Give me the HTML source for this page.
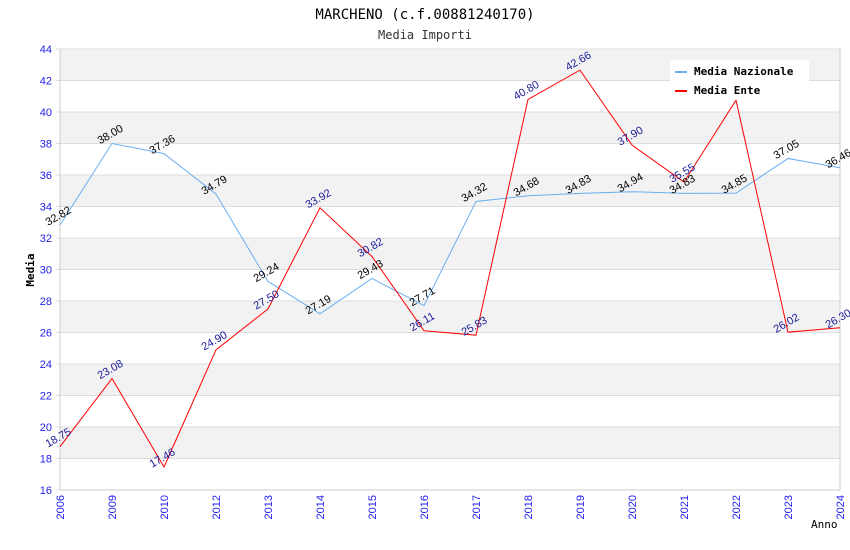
<!DOCTYPE html>
<html><head><meta charset="utf-8"><style>
body{margin:0;background:#fff}
svg{display:block}
</style></head><body>
<svg id="chart" width="850" height="550" xmlns="http://www.w3.org/2000/svg">
<text x="425" y="19" text-anchor="middle" font-family="DejaVu Sans Mono, monospace" font-size="14" fill="#000">MARCHENO (c.f.00881240170)</text>
<text x="425" y="39" text-anchor="middle" font-family="DejaVu Sans Mono, monospace" font-size="12" fill="#333">Media Importi</text>
<g id="bands"></g><g id="grid"></g><g id="axes"></g><g id="lines"></g><g id="labels"></g>
<text transform="translate(34,270) rotate(-90)" text-anchor="middle" font-family="DejaVu Sans Mono, monospace" font-size="11" font-weight="bold">Media</text>
<text x="811" y="528" font-family="DejaVu Sans Mono, monospace" font-size="11">Anno</text>
<g>
<rect x="670" y="60" width="139" height="40" fill="#fff"/>
<line x1="675" y1="72" x2="687" y2="72" stroke="#6aaef0" stroke-width="2"/>
<text x="694" y="75" font-family="DejaVu Sans Mono, monospace" font-size="11" font-weight="bold">Media Nazionale</text>
<line x1="675" y1="91" x2="687" y2="91" stroke="#ff0000" stroke-width="2"/>
<text x="694" y="94" font-family="DejaVu Sans Mono, monospace" font-size="11" font-weight="bold">Media Ente</text>
</g>
</svg>
<script>
const years=["2006","2009","2010","2012","2013","2014","2015","2016","2017","2018","2019","2020","2021","2022","2023","2024"];
const nazionale=[32.82,38.00,37.36,34.79,29.24,27.19,29.43,27.71,34.32,34.68,34.83,34.94,34.83,34.85,37.05,36.46];
const ente=[18.75,23.08,17.46,24.90,27.50,33.92,30.82,26.11,25.83,40.80,42.66,37.90,35.55,40.75,26.02,26.30];
const yTicks=[16,18,20,22,24,26,28,30,32,34,36,38,40,42,44];
const L=60,R=840,T=49,B=490,yMin=16,yMax=44;
const NS="http://www.w3.org/2000/svg";
const X=i=>L+i*(R-L)/(years.length-1);
const Y=v=>B-(v-yMin)/(yMax-yMin)*(B-T);
function mk(tag,attrs,parent){const e=document.createElementNS(NS,tag);for(const k in attrs)e.setAttribute(k,attrs[k]);document.getElementById(parent).appendChild(e);return e;}
for(let i=0;i<yTicks.length-1;i++){
  if((yTicks.length-2-i)%2===0){
    const r=mk('rect',{x:L,y:Y(yTicks[i+1]),width:R-L,height:Y(yTicks[i])-Y(yTicks[i+1]),fill:'#f2f2f2'},'bands');
    
    
  }
}
yTicks.forEach(t=>{
  const l=mk('line',{x1:L-4,x2:R,y1:Y(t),y2:Y(t),stroke:'#dddddd'},'grid');
  
  
  const tx=mk('text',{x:L-8,y:Y(t)+4,'text-anchor':'end','font-family':'Liberation Sans, sans-serif','font-size':'11',fill:'#2222ee'},'axes');
  tx.textContent=t;
  
  
});
const ax=mk('line',{x1:L,x2:L,y1:T,y2:B,stroke:'#cccccc'},'axes');


const ax2=mk('line',{x1:R,x2:R,y1:T,y2:B,stroke:'#cccccc'},'axes');


const ax3=mk('line',{x1:L,x2:R,y1:B,y2:B,stroke:'#cccccc'},'axes');


years.forEach((y,i)=>{
  const t=mk('text',{transform:`translate(${X(i)+4},${B+5}) rotate(-90)`,'text-anchor':'end','font-family':'Liberation Sans, sans-serif','font-size':'11',fill:'#2222ee'},'axes');
  t.textContent=y;
  
  
});
function series(vals,color,lblColor,name){
  const p=mk('polyline',{points:vals.map((v,i)=>X(i)+','+Y(v)).join(' '),fill:'none',stroke:color,'stroke-width':'1'},'lines');
  
  
  vals.forEach((v,i)=>{
    const t=mk('text',{transform:`translate(${X(i)},${Y(v)-6}) rotate(-30)`,'text-anchor':'middle','font-family':'Liberation Sans, sans-serif','font-size':'11',fill:lblColor},'labels');
    t.textContent=v.toFixed(2);
    
    
  });
}
series(nazionale,'#6aaef0','#000','nazionale');
series(ente,'#ff0000','#1a1a99','ente');
</script>
</body></html>
